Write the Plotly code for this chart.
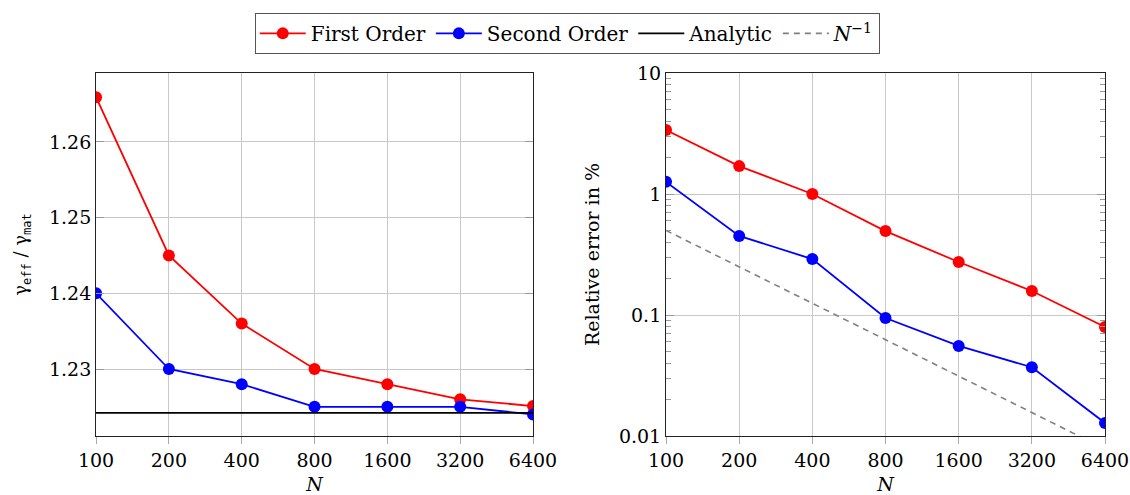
import plotly.graph_objects as go

# Discretisation sizes
N = [100, 200, 400, 800, 1600, 3200, 6400]

# Effective-to-material ratio
ratio_first = [1.2659, 1.2450, 1.2360, 1.2300, 1.2280, 1.2260, 1.2251]
ratio_second = [1.2400, 1.2300, 1.2280, 1.2250, 1.2250, 1.2250, 1.2240]
ratio_analytic = 1.2242

# Relative error in percent
err_first = [3.38, 1.70, 1.00, 0.494, 0.274, 0.158, 0.0796]
err_second = [1.26, 0.45, 0.29, 0.0945, 0.0555, 0.037, 0.0128]
ref_coeff = 50.0  # reference slope line: ref_coeff / N

x_ticks = N
y1_ticks = [1.23, 1.24, 1.25, 1.26]
y2_ticks = [0.01, 0.1, 1, 10]
y2_tick_text = ["0.01", "0.1", "1", "10"]
y2_minor = [m * d for d in (0.01, 0.1, 1) for m in range(2, 10)]

RED = "#ff0000"
BLUE = "#0000ff"
FONT = "DejaVu Serif, serif"
GRID = "#c8c8c8"

fig = go.Figure()

mk = dict(size=12)
fig.add_trace(go.Scatter(x=N, y=ratio_first, mode="lines+markers", name="First Order",
                         line=dict(color=RED, width=1.8), marker=dict(color=RED, **mk),
                         xaxis="x", yaxis="y", legendgroup="a"))
fig.add_trace(go.Scatter(x=N, y=ratio_second, mode="lines+markers", name="Second Order",
                         line=dict(color=BLUE, width=1.8), marker=dict(color=BLUE, **mk),
                         xaxis="x", yaxis="y", legendgroup="b"))
fig.add_trace(go.Scatter(x=[N[0], N[-1]], y=[ratio_analytic] * 2, mode="lines", name="Analytic",
                         line=dict(color="black", width=1.8), xaxis="x", yaxis="y"))
fig.add_trace(go.Scatter(x=N, y=err_first, mode="lines+markers", name="First Order",
                         line=dict(color=RED, width=1.8), marker=dict(color=RED, **mk),
                         xaxis="x2", yaxis="y2", showlegend=False, legendgroup="a"))
fig.add_trace(go.Scatter(x=N, y=err_second, mode="lines+markers", name="Second Order",
                         line=dict(color=BLUE, width=1.8), marker=dict(color=BLUE, **mk),
                         xaxis="x2", yaxis="y2", showlegend=False, legendgroup="b"))
fig.add_trace(go.Scatter(x=N, y=[ref_coeff / n for n in N], mode="lines",
                         name="<i>N</i><sup>\u22121</sup>",
                         line=dict(color="#808080", width=1.6, dash="6px,5px"),
                         xaxis="x2", yaxis="y2"))

tick_font = dict(family=FONT, size=19, color="black")
log_lo, log_hi = 2.0, 2.0 + 6 * 0.30103

xcommon = dict(type="log", range=[log_lo, log_hi], tickvals=x_ticks,
               ticktext=[str(v) for v in x_ticks], showgrid=True, gridcolor=GRID,
               gridwidth=1, showline=True, linecolor="#222", linewidth=1, mirror=True,
               ticks="outside", ticklen=7, tickcolor="#aaaaaa", tickfont=tick_font,
               zeroline=False, automargin=False)

mono = "<span style=\"font-family:'DejaVu Sans Mono';font-size:12px\">"
ytitle1 = "\u03b3<sub>" + mono + "eff</span></sub> / \u03b3<sub>" + mono + "mat</span></sub>"

fig.update_layout(
    width=1130, height=495,
    margin=dict(l=0, r=0, t=0, b=0),
    paper_bgcolor="white", plot_bgcolor="white",
    font=dict(family=FONT, size=19, color="black"),
    xaxis=dict(xcommon, domain=[0.085, 0.4717], anchor="y",
               title=dict(text="<i>N</i>", font=dict(family=FONT, size=19), standoff=7)),
    xaxis2=dict(xcommon, domain=[0.5894, 0.9779], anchor="y2",
                title=dict(text="<i>N</i>", font=dict(family=FONT, size=19), standoff=7)),
    yaxis=dict(domain=[0.1192, 0.8525], anchor="x", range=[1.22115, 1.2691],
               tickvals=y1_ticks, ticktext=["1.23", "1.24", "1.25", "1.26"],
               showgrid=True, gridcolor=GRID, showline=True, linecolor="#222",
               linewidth=1, mirror="allticks", ticks="inside", ticklen=8,
               tickcolor="#999999", tickfont=tick_font, zeroline=False, automargin=False,
               title=dict(text=ytitle1, font=dict(family=FONT, size=18), standoff=16)),
    yaxis2=dict(domain=[0.1192, 0.8525], anchor="x2", type="log", range=[-2, 1],
                tickvals=y2_ticks, ticktext=y2_tick_text,
                showgrid=True, gridcolor=GRID, showline=True, linecolor="#222",
                linewidth=1, mirror="allticks", ticks="inside", ticklen=8,
                tickcolor="#999999", tickfont=tick_font, zeroline=False, automargin=False,
                minor=dict(tickvals=y2_minor, ticks="inside", ticklen=5,
                           tickcolor="#999999", showgrid=False),
                title=dict(text="Relative error in %", font=dict(family=FONT, size=19),
                           standoff=14)),
    legend=dict(orientation="h", x=0.502, xanchor="center", y=0.974, yanchor="top",
                bordercolor="#555", borderwidth=1, bgcolor="white",
                font=dict(family=FONT, size=20), itemwidth=46, tracegroupgap=0),
)

fig.write_html("out.html")
